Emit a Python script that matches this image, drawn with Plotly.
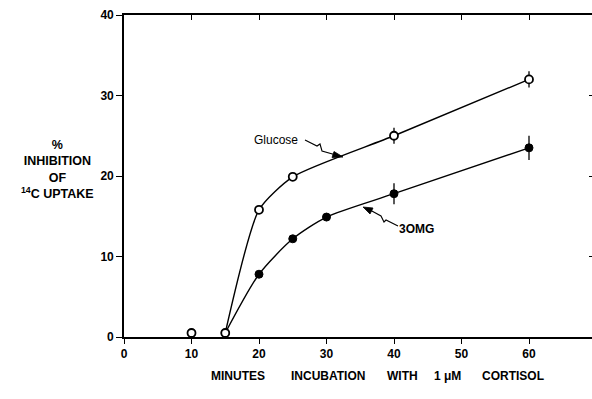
import plotly.graph_objects as go

# ---- data ----
minutes_glucose = [10, 15, 20, 25, 40, 60]
glucose = [0.5, 0.5, 15.8, 19.9, 25.0, 32.0]
glucose_err = [0, 0, 0, 0, 1.0, 1.0]

minutes_omg = [10, 15, 20, 25, 30, 40, 60]
omg = [0.5, 0.5, 7.8, 12.2, 14.9, 17.8, 23.5]
omg_err = [0, 0, 0, 0, 0.5, 1.3, 1.5]

x_ticks = [0, 10, 20, 30, 40, 50, 60]
y_ticks = [0, 10, 20, 30, 40]

# ---- geometry helpers (pixel -> axis coords for decorations) ----
L, R, T, B = 124, 0, 15, 62
W, H = 592, 399
XMAX = (W - L) / 6.75
def dx(px):
    return (px - L) / 6.75
def dy(py):
    return (337 - py) / 8.05
def pxp(px):
    return (px - L) / (W - L - R)
def pyp(py):
    return (H - B - py) / (H - B - T)

FONT = "Liberation Sans"
fig = go.Figure()

# curves (drawn from 15 min on)
fig.add_trace(go.Scatter(x=minutes_omg[1:], y=omg[1:], mode="lines",
                         line=dict(color="black", width=1.4, shape="spline", smoothing=0.7),
                         hoverinfo="skip"))
fig.add_trace(go.Scatter(x=minutes_glucose[1:], y=glucose[1:], mode="lines",
                         line=dict(color="black", width=1.4, shape="spline", smoothing=0.6),
                         hoverinfo="skip"))
# markers
fig.add_trace(go.Scatter(x=minutes_omg, y=omg, mode="markers",
                         marker=dict(symbol="circle", size=8, color="black",
                                     line=dict(color="black", width=1)),
                         error_y=dict(type="data", array=omg_err, color="black",
                                      thickness=1.3, width=0),
                         cliponaxis=False))
fig.add_trace(go.Scatter(x=minutes_glucose, y=glucose, mode="markers",
                         marker=dict(symbol="circle", size=8, color="white",
                                     line=dict(color="black", width=1.8)),
                         error_y=dict(type="data", array=glucose_err, color="black",
                                      thickness=1.3, width=0),
                         cliponaxis=False))
# invisible trace for secondary axes
fig.add_trace(go.Scatter(x=[0], y=[0], xaxis="x2", yaxis="y2", mode="markers",
                         marker=dict(opacity=0), hoverinfo="skip"))

axis_font = dict(family=FONT, size=12, color="black", weight="bold")
fig.update_layout(
    width=W, height=H,
    margin=dict(l=L, r=R, t=T, b=B),
    paper_bgcolor="white", plot_bgcolor="white",
    showlegend=False,
    xaxis=dict(range=[0, XMAX], tickvals=x_ticks, ticks="outside", ticklen=5,
               tickwidth=1.2, tickcolor="black", showline=True, linecolor="black",
               linewidth=1.6, showgrid=False, zeroline=False, tickfont=axis_font),
    yaxis=dict(range=[0, 40], tickvals=y_ticks, ticks="outside", ticklen=6,
               tickwidth=1.2, tickcolor="black", showline=True, linecolor="black",
               linewidth=1.6, showgrid=False, zeroline=False, tickfont=axis_font),
    xaxis2=dict(range=[0, XMAX], overlaying="x", side="top", tickvals=x_ticks[1:],
                ticks="inside", ticklen=5, tickwidth=1.2, tickcolor="black",
                showline=True, linecolor="black", linewidth=1.6,
                showticklabels=False, showgrid=False, zeroline=False),
    yaxis2=dict(range=[0, 40], overlaying="y", side="right", tickvals=[10, 20, 30],
                ticks="inside", ticklen=3, tickwidth=1.2, tickcolor="black",
                showline=False, showticklabels=False, showgrid=False, zeroline=False),
)

# y-axis title
fig.add_annotation(text="%<br>INHIBITION<br>OF<br><sup>14</sup>C UPTAKE",
                   xref="paper", yref="paper", x=pxp(57), y=pyp(169),
                   xanchor="center", yanchor="middle", showarrow=False, align="center",
                   font=dict(family=FONT, size=12.5, color="black", weight="bold"))

# x-axis title words
for word, cx in [("MINUTES", 238), ("INCUBATION", 328), ("WITH", 402),
                 ("1 μM", 447), ("CORTISOL", 513)]:
    fig.add_annotation(text=word, xref="paper", yref="paper", x=pxp(cx), y=pyp(376),
                       xanchor="center", yanchor="middle", showarrow=False,
                       font=dict(family=FONT, size=12, color="black", weight="bold"))

# series labels
fig.add_annotation(text="Glucose", x=dx(276), y=dy(140), showarrow=False,
                   xanchor="center", yanchor="middle",
                   font=dict(family=FONT, size=12, color="black"))
fig.add_annotation(text="3OMG", x=dx(416), y=dy(229), showarrow=False,
                   xanchor="center", yanchor="middle",
                   font=dict(family=FONT, size=12, color="black", weight="bold"))

# squiggly pointer lines with arrowheads
def squiggle(points):
    d = "M " + " L ".join(f"{dx(a):.3f},{dy(b):.3f}" for a, b in points)
    fig.add_shape(type="path", path=d, xref="x", yref="y",
                  line=dict(color="black", width=1.1))

def head(points):
    d = "M " + " L ".join(f"{dx(a):.3f},{dy(b):.3f}" for a, b in points) + " Z"
    fig.add_shape(type="path", path=d, xref="x", yref="y",
                  line=dict(color="black", width=0.8), fillcolor="black")

squiggle([(305, 140), (317, 146), (320, 144), (322, 151), (336, 155)])
head([(343, 157), (334, 151.5), (332, 157.5)])

squiggle([(398, 226), (386, 220), (384, 222), (381, 216), (370, 210)])
head([(363, 207), (373, 208), (370, 214)])

fig.write_html("out.html")
